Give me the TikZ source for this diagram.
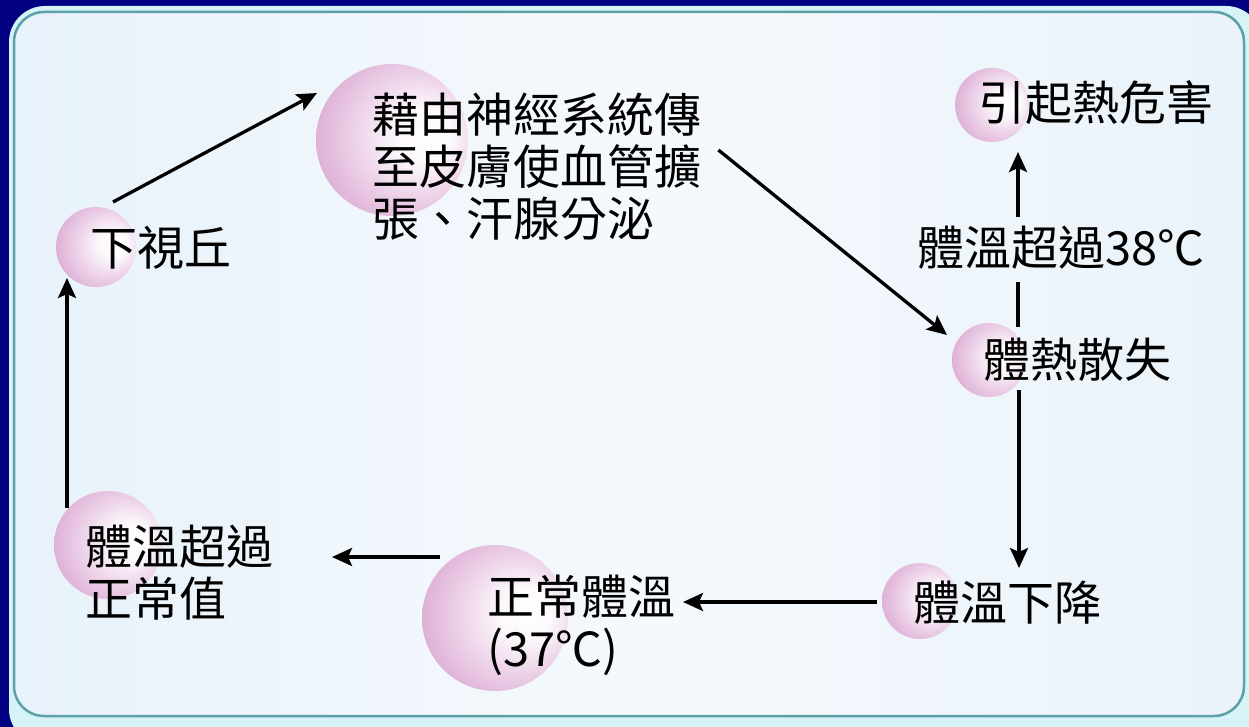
\documentclass[tikz,border=0pt]{standalone}
\usepackage{fontspec}
\newfontfamily\cjk{Noto Sans CJK TC}
\usetikzlibrary{arrows.meta}
\definecolor{navy}{RGB}{0,0,128}
\definecolor{panelL}{RGB}{232,242,250}
\definecolor{panelM}{RGB}{245,249,253}
\definecolor{panelR}{RGB}{234,243,250}
\definecolor{rimlight}{RGB}{214,244,248}
\definecolor{rimteal}{RGB}{92,160,168}
\definecolor{pinkc}{RGB}{230,194,224}
\definecolor{pinkdeep}{RGB}{210,152,200}
\pgfdeclareradialshading{pinkball}{\pgfpoint{13bp}{2bp}}{color(0bp)=(white); color(9bp)=(white!88!pinkc); color(25bp)=(pinkc); color(38bp)=(pinkdeep); color(50bp)=(pinkdeep)}
\tikzset{
  ball/.style={circle, shading=pinkball, draw=none, inner sep=0pt},
  txt/.style={inner sep=0pt, anchor=west, font=\cjk\fontsize{47}{52}\selectfont, align=left, text=black},
  arr/.style={line width=3.3pt, draw=black, -{Stealth[length=20pt,width=18pt,inset=4pt]}},
  seg/.style={line width=3.3pt, draw=black}
}
\begin{document}
\begin{tikzpicture}[x=1pt,y=-1pt]
\useasboundingbox (0,0) rectangle (1249,727);
% background
\fill[navy] (0,0) rectangle (1249,727);
\fill[rimlight, rounded corners=36pt] (9,6) rectangle (1262,745);
\draw[rimteal, line width=2.5pt, rounded corners=30pt, left color=panelL, right color=panelR, middle color=panelM]
  (14,12) rectangle (1244,716);
% circles
\node[ball, minimum size=80pt]  (c-hyp)    at (96,247)  {};
\node[ball, minimum size=152pt] (c-nerve)  at (392,140) {};
\node[ball, minimum size=74pt]  (c-haz)    at (992,105) {};
\node[ball, minimum size=74pt]  (c-loss)   at (989,360) {};
\node[ball, minimum size=76pt]  (c-drop)   at (920,601) {};
\node[ball, minimum size=146pt] (c-normal) at (495,618) {};
\node[ball, minimum size=108pt] (c-over)   at (108,545) {};
% texts
\node[txt] (t-hyp)    at (90,248)  {下視丘};
\node[txt] (t-nerve)  at (372,167) {藉由神經系統傳\\至皮膚使血管擴\\張、汗腺分泌};
\node[txt] (t-haz)    at (978,103) {引起熱危害};
\node[txt] (t-lbl)    at (917,248) {體溫超過38℃};
\node[txt] (t-loss)   at (983,360) {體熱散失};
\node[txt] (t-drop)   at (913,603) {體溫下降};
\node[txt] (t-normal) at (487,625) {正常體溫\\(37℃)};
\node[txt] (t-over)   at (85,573)  {體溫超過\\正常值};
% connectors
\draw[arr] ([shift={(17,-45)}]c-hyp.center) -- ([shift={(-75,-47)}]c-nerve.center);
\draw[arr] ([shift={(17,-17)}]t-nerve.east) -- ([shift={(-42,-25)}]c-loss.center);
\draw[arr] ([shift={(30,30)}]c-loss.center) -- ([shift={(99,-33)}]c-drop.center);
\draw[seg] ([shift={(29,-33)}]c-loss.center) -- ([shift={(101,34)}]t-lbl.west);
\draw[arr] ([shift={(101,-31)}]t-lbl.west) -- ([shift={(26,47)}]c-haz.center);
\draw[arr] ([shift={(-43,1)}]c-drop.center) -- ([shift={(188,-16)}]c-normal.center);
\draw[arr] ([shift={(-55,-61)}]c-normal.center) -- ([shift={(224,12)}]c-over.center);
\draw[arr] ([shift={(-41,-37)}]c-over.center) -- ([shift={(-29,31)}]c-hyp.center);
\end{tikzpicture}
\end{document}
